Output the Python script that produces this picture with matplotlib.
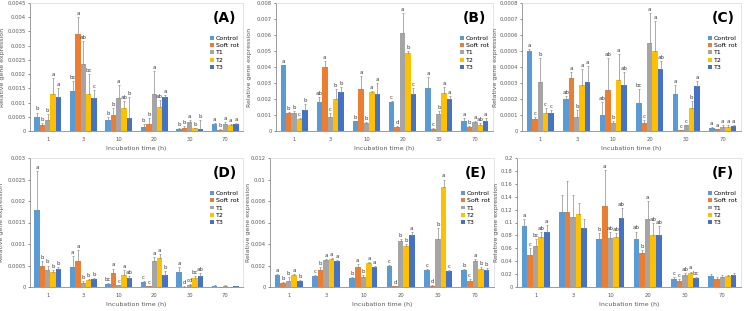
import matplotlib
matplotlib.use("Agg")
import matplotlib.pyplot as plt
import numpy as np

times = ["1", "3", "10", "20", "30", "70"]
series = ["Control", "Soft rot", "T1", "T2", "T3"]
colors = ["#5B9BD5", "#ED7D31", "#A5A5A5", "#FFC000", "#4472C4"]

# ---- panel A ----
a_vals = [
    [0.0005, 0.0014, 0.0004, 0.00015, 0.00008, 0.00025],
    [0.0002, 0.0034, 0.00055, 0.00025, 0.00012, 0.00005],
    [0.0004, 0.00237, 0.00115, 0.0013, 0.0003, 0.00025],
    [0.0013, 0.0013, 0.0008, 0.00085, 0.0001, 0.0002],
    [0.0012, 0.00115, 0.00045, 0.0012, 0.00008, 0.00025],
]
a_err = [
    [0.00015, 0.00035, 0.0001, 0.0001, 0.00002, 0.00003],
    [0.00008, 0.0006, 0.00025, 0.0002, 0.00006, 0.00002],
    [0.0002, 0.0008, 0.00045, 0.0008, 0.0001, 0.00005],
    [0.00055, 0.0007, 0.00025, 0.00025, 0.00002, 0.00005],
    [0.0003, 0.0003, 0.00075, 0.00005, 0.0003, 0.00003],
]
a_let = [
    ["b", "bc", "b", "b", "b", "a"],
    ["b", "a", "b", "b", "b", "b"],
    ["b", "ab", "a", "a", "a", "a"],
    ["a", "bc", "ab", "ab", "b", "a"],
    ["a", "c", "b", "a", "b", "a"],
]

# ---- panel B ----
b_vals = [
    [0.0041, 0.0018, 0.0006, 0.0018, 0.0027, 0.0006],
    [0.00115, 0.004, 0.00265, 0.00025, 0.00015, 0.00025],
    [0.00115, 0.0009, 0.0005, 0.0061, 0.00105, 0.00055],
    [0.00075, 0.002, 0.00245, 0.0049, 0.00235, 0.0004],
    [0.0013, 0.00245, 0.0023, 0.0023, 0.002, 0.0006],
]
b_err = [
    [0.00005, 0.0003, 0.00005, 0.00005, 0.0007, 0.0002],
    [0.00005, 0.0004, 0.0008, 0.00005, 0.00005, 0.00005],
    [0.0001, 0.0002, 0.00005, 0.0013, 0.0002, 0.0001],
    [0.00005, 0.0006, 0.00005, 0.0001, 0.0004, 0.0001],
    [0.0004, 0.0003, 0.0007, 0.0004, 0.0002, 0.0002],
]
b_let = [
    ["a", "ab", "b", "c", "a", "a"],
    ["b", "a", "a", "d", "c", "b"],
    ["b", "c", "b", "a", "b", "a"],
    ["c", "b", "a", "b", "a", "ab"],
    ["b", "b", "a", "c", "a", "a"],
]

# ---- panel C ----
c_vals = [
    [0.0005, 0.0002, 0.0001, 0.000175, 0.00023, 0.00002],
    [0.000075, 0.00033, 0.000255, 0.00005, 0.000005, 0.00001],
    [0.000305, 0.00009, 0.00005, 0.00055, 0.000035, 0.000025],
    [0.000115, 0.00029, 0.00032, 0.0005, 0.000145, 0.000025],
    [0.00011, 0.000305, 0.00029, 0.00039, 0.00028, 0.00003],
]
c_err = [
    [0.00001, 0.00002, 0.00008, 0.00009, 0.00006, 0.000005],
    [0.00001, 0.00004, 0.0002, 0.00002, 0.000002, 0.000005],
    [0.00015, 0.00004, 0.00001, 0.00019, 0.000005, 0.00001],
    [0.00003, 0.0001, 0.00016, 0.00019, 0.00004, 0.00001],
    [0.00002, 0.0001, 0.00008, 0.00005, 0.00003, 0.00001],
]
c_let = [
    ["a", "ab", "ab", "bc", "a", "a"],
    ["c", "a", "ab", "c", "c", "a"],
    ["b", "b", "b", "a", "c", "a"],
    ["c", "a", "a", "a", "b", "a"],
    ["c", "a", "ab", "ab", "a", "a"],
]

# ---- panel D ----
d_vals = [
    [0.0018, 0.00047, 0.00007, 0.00012, 0.00036, 0.00003],
    [0.0005, 0.0006, 0.00033, 0.00002, 0.00001, 0.00001],
    [0.0004, 0.0001, 0.00004, 0.0006, 0.00005, 0.00003],
    [0.00034, 0.00016, 0.00029, 0.00067, 0.0002, 0.00001],
    [0.00042, 0.00019, 0.00021, 0.00028, 0.00026, 0.00003],
]
d_err = [
    [0.0009, 0.00025, 0.00003, 0.00003, 0.0001, 0.00001],
    [0.0001, 0.00025, 0.0001, 0.00001, 0.00001, 0.0],
    [0.0001, 0.00003, 0.00001, 0.0001, 0.00002, 0.00001],
    [0.00005, 0.00002, 0.0001, 0.0001, 0.00005, 0.0],
    [0.00005, 0.00003, 0.00005, 0.0001, 0.00006, 0.0],
]
d_let = [
    ["a", "a", "bc", "c", "a", ""],
    ["b", "a", "a", "c", "d", ""],
    ["b", "b", "c", "a", "cd", ""],
    ["b", "b", "a", "a", "bc", ""],
    ["b", "b", "ab", "b", "ab", ""],
]

# ---- panel E ----
e_vals = [
    [0.00115, 0.001, 0.0008, 0.002, 0.0016, 0.0016],
    [0.0004, 0.0016, 0.0019, 0.00005, 0.0001, 0.0006],
    [0.0006, 0.0025, 0.0009, 0.0043, 0.0045, 0.0024],
    [0.00115, 0.0026, 0.0022, 0.0038, 0.0093, 0.0017],
    [0.00055, 0.0024, 0.00185, 0.0048, 0.0015, 0.0016],
]
e_err = [
    [0.0001, 0.0001, 0.0001, 0.00005, 0.0001, 0.0001],
    [0.0001, 0.0003, 0.0002, 0.00002, 0.00005, 0.0001],
    [0.0003, 0.0001, 0.0002, 0.0002, 0.001, 0.0002],
    [0.0001, 0.0001, 0.0001, 0.0002, 0.0007, 0.0002],
    [0.0001, 0.0001, 0.0001, 0.0003, 0.0001, 0.0002],
]
e_let = [
    ["a", "c", "b", "c", "c", "b"],
    ["b", "b", "a", "d", "d", "c"],
    ["b", "a", "b", "b", "b", "a"],
    ["a", "a", "a", "b", "a", "b"],
    ["b", "a", "a", "a", "c", "b"],
]

# ---- panel F ----
f_vals = [
    [0.094, 0.117, 0.074, 0.074, 0.013, 0.017],
    [0.05, 0.117, 0.126, 0.052, 0.01, 0.013],
    [0.064, 0.109, 0.076, 0.105, 0.018, 0.016],
    [0.077, 0.113, 0.077, 0.081, 0.021, 0.017],
    [0.086, 0.092, 0.107, 0.08, 0.014, 0.019],
]
f_err = [
    [0.012, 0.025, 0.01, 0.012, 0.003, 0.003],
    [0.01, 0.047, 0.055, 0.005, 0.002, 0.003],
    [0.01, 0.033, 0.009, 0.028, 0.003, 0.002],
    [0.008, 0.017, 0.007, 0.018, 0.003, 0.002],
    [0.01, 0.013, 0.015, 0.015, 0.002, 0.002],
]
f_let = [
    ["a", "", "b", "ab", "c", ""],
    ["c", "", "a", "b", "c", ""],
    ["bc", "", "ab", "a", "ab", ""],
    ["ab", "", "ab", "ab", "a", ""],
    ["a", "", "ab", "ab", "bc", ""],
]

panels = [
    ("(A)", a_vals, a_err, a_let, 0.0045, 0.0005),
    ("(B)", b_vals, b_err, b_let, 0.008, 0.001),
    ("(C)", c_vals, c_err, c_let, 0.0008, 0.0001),
    ("(D)", d_vals, d_err, d_let, 0.003, 0.0005),
    ("(E)", e_vals, e_err, e_let, 0.012, 0.002),
    ("(F)", f_vals, f_err, f_let, 0.2, 0.02),
]

# axes rectangles in pixels: left, right, top, bottom, y-label x
W, H = 744, 311
rects = [
    (30, 243, 3, 131, 5), (276, 493, 3, 131, 252), (522, 741, 3, 131, 498),
    (30, 243, 158, 287, 4), (270, 494, 158, 287, 251), (517, 741, 158, 287, 499),
]

fig = plt.figure(figsize=(7.44, 3.11), dpi=100)
x = np.arange(len(times))
bw = 0.15

for (label, vals, errs, lets, ymax, step), (l, r, t, b, yl) in zip(panels, rects):
    ax = fig.add_axes([l / W, 1 - b / H, (r - l) / W, (b - t) / H])
    for i, name in enumerate(series):
        pos = x + (i - 2) * bw
        v = np.array(vals[i])
        e = np.array(errs[i])
        ax.bar(pos, v, bw, color=colors[i], label=name, zorder=2)
        ax.errorbar(pos, v, yerr=[np.zeros_like(e), e], fmt="none",
                    ecolor="#8C8C8C", elinewidth=0.5, capsize=1.0,
                    capthick=0.5, zorder=3)
        for px, vy, ey, s in zip(pos, v, e, lets[i]):
            if s:
                ax.text(px, vy + ey + ymax * 0.008, s, ha="center", va="bottom",
                        fontsize=4, color="#404040")
    ax.set_xlim(-0.5, len(times) - 0.5)
    ax.set_ylim(0, ymax)
    ticks = np.linspace(0, ymax, int(round(ymax / step)) + 1)
    ax.set_yticks(ticks)
    ax.set_yticklabels(["{:g}".format(round(tv, 6)) for tv in ticks])
    ax.set_xticks(x)
    ax.set_xticklabels(times)
    ax.tick_params(labelsize=3.8, colors="#595959", length=1.5, width=0.5, pad=1.5)
    ax.tick_params(axis="x", length=0, pad=4)
    for s in ["top", "right"]:
        ax.spines[s].set_color("#D9D9D9")
        ax.spines[s].set_linewidth(0.5)
    for s in ["left", "bottom"]:
        ax.spines[s].set_color("#8C8C8C")
        ax.spines[s].set_linewidth(0.6)
    ax.set_xlabel("Incubation time (h)", fontsize=4.5, color="#595959", labelpad=3)
    ax.set_ylabel("Relative gene expression", fontsize=4.5, color="#595959")
    ax.yaxis.set_label_coords((yl - l) / (r - l), 0.5)
    ax.text(0.97, 0.94, label, transform=ax.transAxes, ha="right", va="top",
            fontsize=10, fontweight="bold")
    ax.legend(loc="upper right", bbox_to_anchor=(1.0, 0.78), fontsize=4.5,
              frameon=False, handlelength=0.6, handleheight=0.6,
              handletextpad=0.3, labelspacing=0.35, borderpad=0.2)

fig.savefig("out.png", dpi=100)
